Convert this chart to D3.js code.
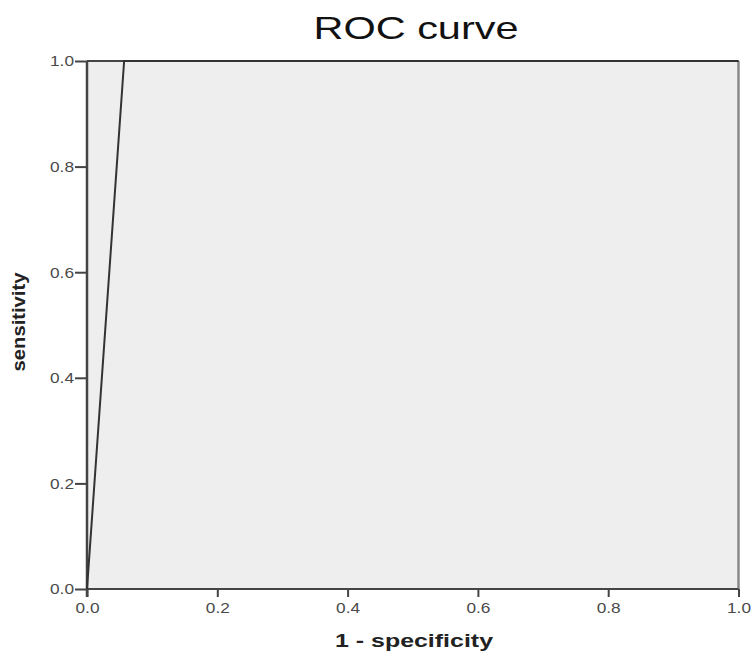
<!DOCTYPE html>
<html>
<meta charset="utf-8">
<title>ROC curve</title>
<style>
  body { margin: 0; background: #fff; }
  .tick text { font-family: Arial, "Liberation Sans", sans-serif; font-size: 15px; fill: #4a4a4a; }
  .axis path { display: none; }
  .axis line { stroke: #444; stroke-width: 2px; }
</style>
<body>
<div id="chart"></div>
<script src="https://d3js.org/d3.v7.min.js"></script>
<script>
// ROC points (1 - specificity, sensitivity)
var fpr = [0, 0.057, 1];
var tpr = [0, 1, 1];
var ticks = [0, 0.2, 0.4, 0.6, 0.8, 1.0];

var width = 753, height = 653;
var margin = {top: 61, right: 14, bottom: 64, left: 87};
var font = "Arial, 'Liberation Sans', sans-serif";

var svg = d3.select("#chart").append("svg")
    .attr("width", width)
    .attr("height", height);

var x = d3.scaleLinear().domain([0, 1]).range([margin.left, width - margin.right - 0.5]);
var y = d3.scaleLinear().domain([0, 1]).range([height - margin.bottom, margin.top]);

// plot background
svg.append("rect")
    .attr("x", x(0)).attr("y", y(1))
    .attr("width", x(1) - x(0)).attr("height", y(0) - y(1))
    .style("fill", "#eeeeee");

// axes (labels a bit stretched like the original)
svg.append("g")
    .attr("class", "axis")
    .attr("transform", "translate(0," + y(0) + ")")
    .call(d3.axisBottom(x).tickValues(ticks).tickFormat(d3.format(".1f")).tickSize(8).tickPadding(5))
    .selectAll("text").attr("textLength", 24).attr("lengthAdjust", "spacingAndGlyphs");

svg.append("g")
    .attr("class", "axis")
    .attr("transform", "translate(" + x(0) + ",0)")
    .call(d3.axisLeft(y).tickValues(ticks).tickFormat(d3.format(".1f")).tickSize(12).tickPadding(1))
    .selectAll("text").attr("textLength", 24).attr("lengthAdjust", "spacingAndGlyphs");

// frame
svg.append("line").attr("x1", x(1)).attr("x2", x(1)).attr("y1", y(1)).attr("y2", y(0))
    .style("stroke", "#888").style("stroke-width", 2.5);
svg.append("line").attr("x1", x(0)).attr("x2", x(1)).attr("y1", y(0)).attr("y2", y(0))
    .style("stroke", "#444").style("stroke-width", 2);
svg.append("line").attr("x1", x(0)).attr("x2", x(1)).attr("y1", y(1)).attr("y2", y(1))
    .style("stroke", "#444").style("stroke-width", 2);
svg.append("line").attr("x1", x(0)).attr("x2", x(0)).attr("y1", y(1)).attr("y2", y(0) + 8)
    .style("stroke", "#444").style("stroke-width", 2.5);

// ROC line
var line = d3.line()
    .x(function(d, i) { return x(fpr[i]); })
    .y(function(d, i) { return y(tpr[i]); });

svg.append("path")
    .datum(fpr)
    .attr("d", line)
    .style("fill", "none")
    .style("stroke", "#333")
    .style("stroke-width", 2);

// title and labels
svg.append("text")
    .attr("x", 416).attr("y", 39)
    .attr("text-anchor", "middle")
    .attr("textLength", 205).attr("lengthAdjust", "spacingAndGlyphs")
    .style("font-family", font)
    .style("font-size", "32px")
    .style("fill", "#111")
    .text("ROC curve");

svg.append("text")
    .attr("x", 414).attr("y", 647)
    .attr("text-anchor", "middle")
    .attr("textLength", 158).attr("lengthAdjust", "spacingAndGlyphs")
    .style("font-family", font)
    .style("font-size", "18px")
    .style("font-weight", "bold")
    .style("fill", "#222")
    .text("1 - specificity");

svg.append("text")
    .attr("transform", "translate(25,322) rotate(-90)")
    .attr("text-anchor", "middle")
    .attr("textLength", 99).attr("lengthAdjust", "spacingAndGlyphs")
    .style("font-family", font)
    .style("font-size", "18px")
    .style("font-weight", "bold")
    .style("fill", "#222")
    .text("sensitivity");
</script>
</body>
</html>
